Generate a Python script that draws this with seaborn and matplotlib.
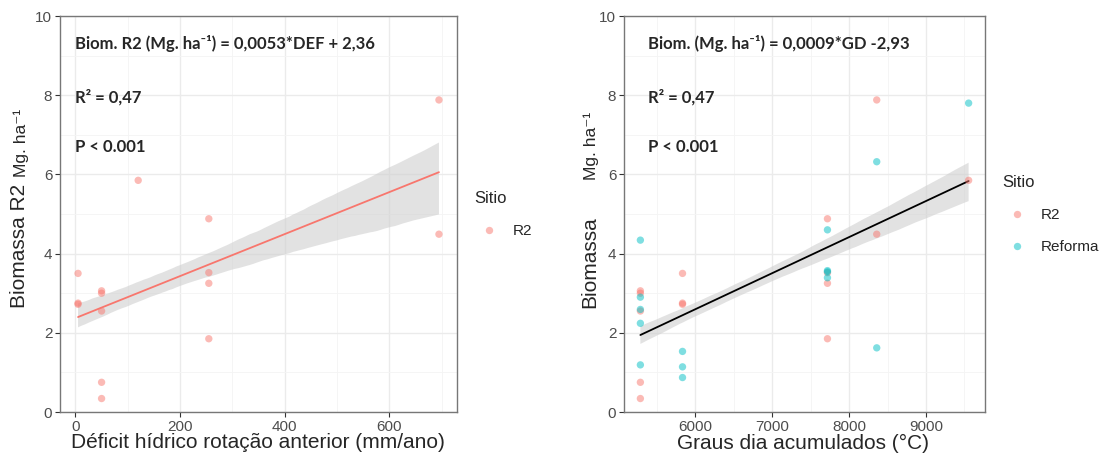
import numpy as np
import pandas as pd
import matplotlib
matplotlib.use('Agg')
import matplotlib.pyplot as plt
import seaborn as sns

#########
# data
#########
# R2 site: previous-rotation water deficit (mm/ano), accumulated degree days, biomass
r2_def = [5, 5, 5, 50, 50, 50, 50, 50, 120, 255, 255, 255, 255, 695, 695]
r2_gd = [5834, 5834, 5834, 5286, 5286, 5286, 5286, 5286, 9555,
         7719, 7719, 7719, 7719, 8360, 8360]
r2_bio = [3.50, 2.75, 2.72, 3.06, 3.00, 2.55, 0.75, 0.34, 5.85,
          4.88, 3.52, 3.25, 1.85, 7.88, 4.49]

# Reforma site
ref_gd = [5286, 5286, 5286, 5286, 5286, 5834, 5834, 5834,
          7719, 7719, 7719, 7719, 8360, 8360, 9555]
ref_bio = [4.34, 2.90, 2.59, 2.24, 1.19, 1.53, 1.14, 0.87,
           4.60, 3.57, 3.54, 3.39, 6.32, 1.62, 7.80]

sitios = ['R2', 'Reforma']
cores = {'R2': '#F8766D', 'Reforma': '#00BFC4'}

left = pd.DataFrame({'DEF': r2_def, 'Biom': r2_bio, 'Sitio': 'R2'})
right = pd.DataFrame({
    'GD': r2_gd + ref_gd,
    'Biom': r2_bio + ref_bio,
    'Sitio': ['R2'] * len(r2_gd) + ['Reforma'] * len(ref_gd),
})

sns.set_style('white')
plt.rcParams['font.family'] = ['Liberation Sans', 'DejaVu Sans']
ann_font = ['Lato', 'DejaVu Sans']

fig = plt.figure(figsize=(11.03, 4.55), dpi=100)
W, H = 1103, 455
ax1 = fig.add_axes([60 / W, 1 - 412 / H, 397 / W, 396 / H])
ax2 = fig.add_axes([624 / W, 1 - 412 / H, 361 / W, 396 / H])


def style_axes(ax, xmajor, xminor):
    ax.set_ylim(0, 10)
    ax.set_yticks([0, 2, 4, 6, 8, 10])
    ax.set_yticks([1, 3, 5, 7, 9], minor=True)
    ax.set_xticks(xmajor)
    ax.set_xticks(xminor, minor=True)
    ax.grid(True, which='major', color='#EBEBEB', lw=1.0, zorder=0)
    ax.grid(True, which='minor', color='#F4F4F4', lw=0.6, zorder=0)
    ax.set_axisbelow(True)
    for s in ax.spines.values():
        s.set_color('#777777')
        s.set_linewidth(1.0)
    ax.tick_params(which='major', direction='out', length=3.5, width=0.8,
                   color='#333333', labelsize=11, labelcolor='#4D4D4D', pad=2,
                   bottom=True, left=True)
    ax.tick_params(which='minor', length=0)
    ax.set_xlabel('')
    ax.set_ylabel('')


def grey_band(ax):
    for c in ax.collections:
        if isinstance(c, matplotlib.collections.PolyCollection):
            c.set_facecolor('#CFCFCF')
            c.set_alpha(0.6)
            c.set_edgecolor('none')


#########
# left: biomass vs. water deficit
#########
sns.regplot(data=left, x='DEF', y='Biom', ax=ax1, scatter=False, ci=50,
            seed=3, color='#F8766D', line_kws={'lw': 1.3, 'zorder': 3})
grey_band(ax1)
sns.scatterplot(data=left, x='DEF', y='Biom', hue='Sitio', palette=cores,
                ax=ax1, s=28, alpha=0.5, edgecolor='none', zorder=4)
ax1.set_xlim(-29.5, 729.5)
style_axes(ax1, [0, 200, 400, 600], [100, 300, 500, 700])

ax1.text(0, 9.3, 'Biom. R2 (Mg. ha⁻¹) = 0,0053*DEF + 2,36', fontsize=12,
         fontweight='bold', family=ann_font, va='center')
ax1.text(0, 7.95, 'R² = 0,47', fontsize=12, fontweight='bold',
         family=ann_font, va='center')
ax1.text(0, 6.7, 'P < 0.001', fontsize=12, fontweight='bold',
         family=ann_font, va='center')

leg = ax1.legend(title='Sitio', loc='upper left', bbox_to_anchor=(1.012, 0.59),
                 frameon=False, fontsize=11, title_fontsize=12,
                 handletextpad=0.55, labelspacing=1.2, borderaxespad=0.4)
leg._legend_box.align = 'left'

#########
# right: biomass vs. degree days
#########
sns.regplot(data=right, x='GD', y='Biom', ax=ax2, scatter=False, ci=50,
            seed=3, color='black', line_kws={'lw': 1.3, 'zorder': 3})
grey_band(ax2)
sns.scatterplot(data=right, x='GD', y='Biom', hue='Sitio', hue_order=sitios,
                palette=cores, ax=ax2, s=28, alpha=0.5, edgecolor='none',
                zorder=4)
ax2.set_xlim(5073, 9768)
style_axes(ax2, [6000, 7000, 8000, 9000], [5500, 6500, 7500, 8500, 9500])

ax2.text(5380, 9.3, 'Biom. (Mg. ha⁻¹) = 0,0009*GD -2,93', fontsize=12,
         fontweight='bold', family=ann_font, va='center')
ax2.text(5380, 7.95, 'R² = 0,47', fontsize=12, fontweight='bold',
         family=ann_font, va='center')
ax2.text(5380, 6.7, 'P < 0.001', fontsize=12, fontweight='bold',
         family=ann_font, va='center')

leg2 = ax2.legend(title='Sitio', loc='upper left', bbox_to_anchor=(1.013, 0.63),
                  frameon=False, fontsize=11, title_fontsize=12,
                  handletextpad=0.55, labelspacing=1.2, borderaxespad=0.4)
leg2._legend_box.align = 'left'

#########
# axis titles
#########
fig.text((65 + 450) / 2 / W, 1 - 443 / H,
         'Déficit hídrico rotação anterior (mm/ano)', fontsize=15,
         ha='center', va='center')
fig.text((673 + 933) / 2 / W, 1 - 443 / H, 'Graus dia acumulados (°C)',
         fontsize=15, ha='center', va='center')

fig.text(20 / W, 1 - 308 / H, 'Biomassa R2', fontsize=15, rotation=90,
         ha='center', va='bottom')
fig.text(21 / W, 1 - 177 / H, 'Mg. ha⁻¹', fontsize=12.5, rotation=90,
         ha='center', va='bottom')
fig.text(590 / W, 1 - 308 / H, 'Biomassa', fontsize=15, rotation=90,
         ha='center', va='bottom')
fig.text(591 / W, 1 - 180 / H, 'Mg. ha⁻¹', fontsize=12.5, rotation=90,
         ha='center', va='bottom')

plt.savefig('out.png', dpi=100)
